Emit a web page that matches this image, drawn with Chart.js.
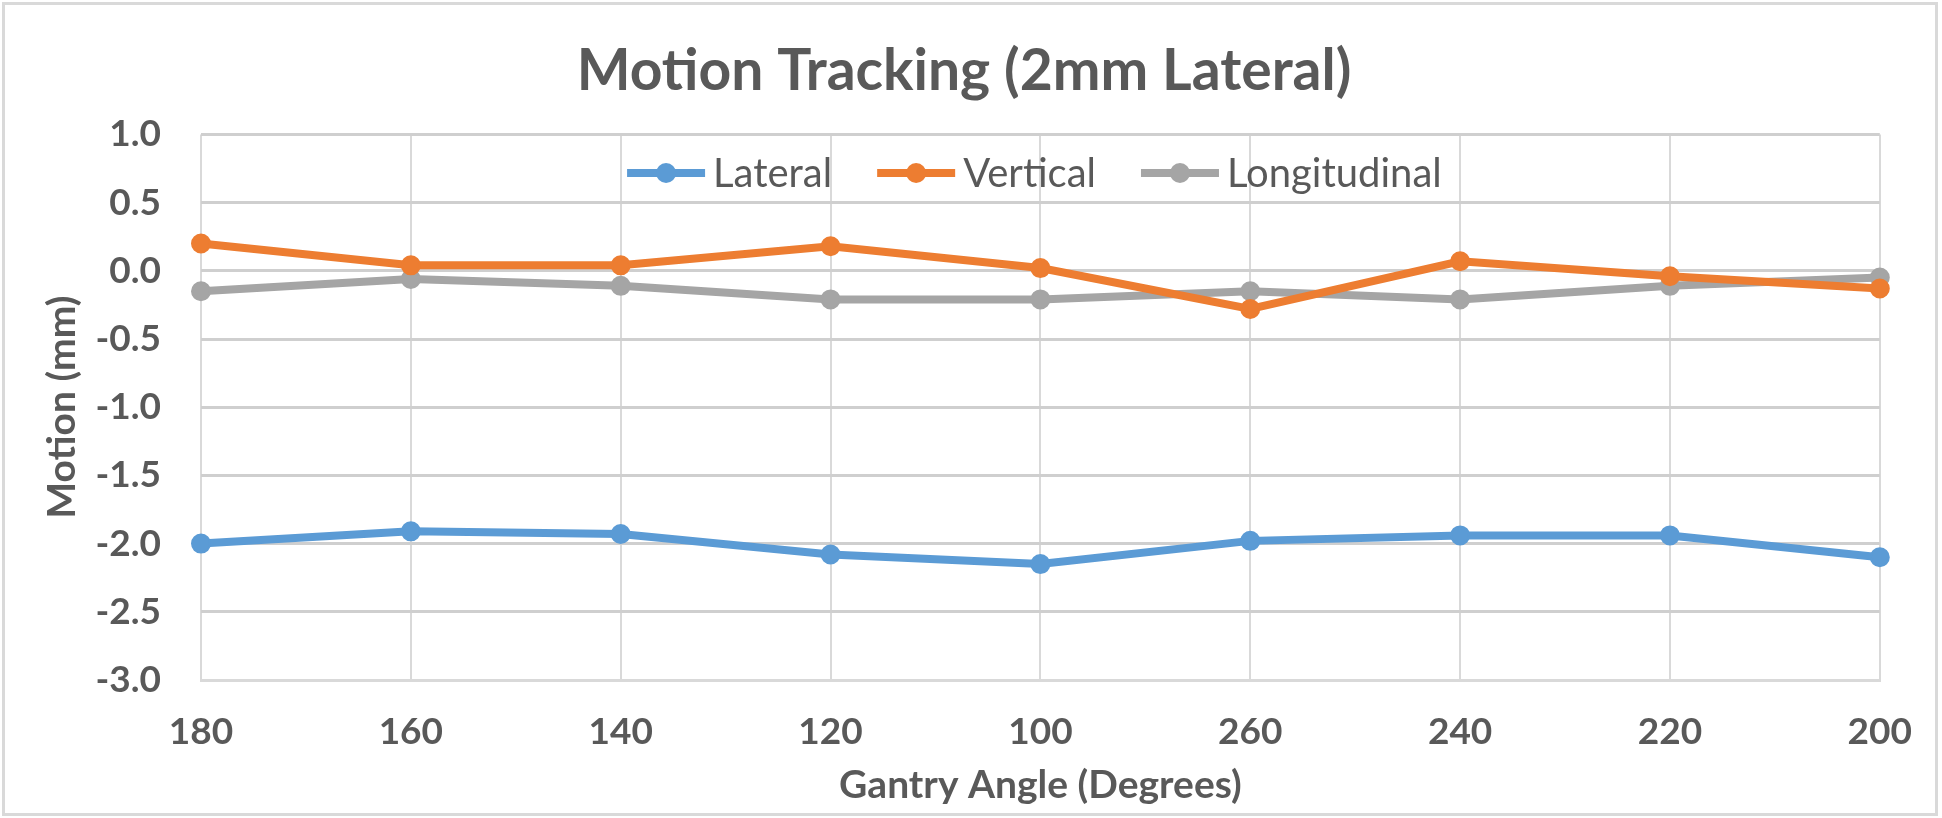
<!DOCTYPE html>
<html>
<head>
<meta charset="utf-8">
<script src="https://cdn.jsdelivr.net/npm/chart.js@4.4.1/dist/chart.umd.min.js"></script>
<style>
  html, body { margin: 0; padding: 0; background: #ffffff; }
  #wrap { width: 1942px; height: 818px; position: relative; }
</style>
</head>
<body>
<div id="wrap"><canvas id="c" width="1942" height="818"></canvas></div>
<script>
const chartTitle = 'Motion Tracking (2mm Lateral)';
const xAxisTitle = 'Gantry Angle (Degrees)';
const yAxisTitle = 'Motion (mm)';
const categories = ['180', '160', '140', '120', '100', '260', '240', '220', '200'];
const seriesNames = ['Lateral', 'Vertical', 'Longitudinal'];
const lateral = [-2.00, -1.91, -1.93, -2.08, -2.15, -1.98, -1.94, -1.94, -2.10];
const vertical = [0.20, 0.04, 0.04, 0.18, 0.02, -0.28, 0.07, -0.04, -0.13];
const longitudinal = [-0.15, -0.06, -0.11, -0.21, -0.21, -0.15, -0.21, -0.11, -0.05];
const yMin = -3.0, yMax = 1.0, yStep = 0.5;

const colors = ['#5B9BD5', '#ED7D31', '#A5A5A5'];
const textColor = '#595959';
const FONT = 'Lato, "Open Sans", sans-serif';

function ds(label, data, color) {
  return {
    label, data,
    borderColor: color, backgroundColor: color,
    pointBackgroundColor: color, pointBorderColor: color,
    borderWidth: 8, pointRadius: 9, pointBorderWidth: 2,
    pointHoverRadius: 9, tension: 0, fill: false
  };
}

const frame = {
  id: 'frame',
  afterLayout(chart) {
    // Excel centres the title slightly right of the padded box
    if (chart.titleBlock) chart.titleBlock.right += 44;
  },
  beforeDraw(chart) {
    const c = chart.ctx;
    c.save();
    c.fillStyle = '#ffffff';
    c.fillRect(0, 0, chart.width, chart.height);
    c.strokeStyle = '#d9d9d9';
    c.lineWidth = 3;
    c.strokeRect(3.5, 3.5, 1933, 811);
    c.restore();
  }
};

const innerLegend = {
  id: 'innerLegend',
  afterDatasetsDraw(chart) {
    const c = chart.ctx;
    const area = chart.chartArea;
    const fontSize = 40;
    c.save();
    c.font = fontSize + 'px ' + FONT;
    const symW = 78, gapText = 8, gapItem = 45;
    const items = chart.data.datasets.map(d => ({
      label: d.label, color: d.borderColor, tw: c.measureText(d.label).width
    }));
    const total = items.reduce((s, it) => s + symW + gapText + it.tw, 0) + gapItem * (items.length - 1);
    let x = (area.left + area.right) / 2 - total / 2 - 6;
    const y = 173;
    items.forEach(it => {
      c.strokeStyle = it.color;
      c.fillStyle = it.color;
      c.lineWidth = 8;
      c.beginPath();
      c.moveTo(x, y);
      c.lineTo(x + symW, y);
      c.stroke();
      c.beginPath();
      c.arc(x + symW / 2, y, 10, 0, Math.PI * 2);
      c.fill();
      c.fillStyle = textColor;
      c.textBaseline = 'middle';
      c.textAlign = 'left';
      c.fillText(it.label, x + symW + gapText, y + 1);
      x += symW + gapText + it.tw + gapItem;
    });
    c.restore();
  }
};

new Chart(document.getElementById('c'), {
  type: 'line',
  data: {
    labels: categories,
    datasets: [
      ds(seriesNames[0], lateral, colors[0]),
      ds(seriesNames[1], vertical, colors[1]),
      ds(seriesNames[2], longitudinal, colors[2])
    ]
  },
  options: {
    responsive: false,
    animation: false,
    devicePixelRatio: 1,
    layout: { padding: { left: 3, right: 61, top: 0, bottom: 8 } },
    plugins: {
      legend: { display: false },
      tooltip: { enabled: false },
      title: {
        display: true,
        text: chartTitle,
        color: textColor,
        font: { family: FONT, size: 57, weight: 'bold', lineHeight: 1.2 },
        padding: { top: 37, bottom: 29 }
      }
    },
    scales: {
      x: {
        offset: false,
        grid: { color: '#d9d9d9', lineWidth: 2, drawTicks: false },
        border: { color: '#d9d9d9', width: 3 },
        ticks: {
          color: textColor, padding: 30, maxRotation: 0, autoSkip: false,
          font: { family: FONT, size: 37, weight: 'bold', lineHeight: 1.2 }
        },
        title: {
          display: true, text: xAxisTitle, color: textColor,
          font: { family: FONT, size: 39, weight: 'bold', lineHeight: 1.2 },
          padding: { top: 0, bottom: 1 }
        },
        afterFit(scale) { scale.height = 130; }
      },
      y: {
        min: yMin, max: yMax,
        grid: { color: '#cfcfcf', lineWidth: 3, drawTicks: false },
        border: { display: false },
        ticks: {
          stepSize: yStep, color: textColor, padding: 40,
          font: { family: FONT, size: 37, weight: 'bold', lineHeight: 1.2 },
          callback: v => Number(v).toFixed(1)
        },
        title: {
          display: true, text: yAxisTitle, color: textColor,
          font: { family: FONT, size: 39, weight: 'bold', lineHeight: 1.2 },
          padding: { top: 36, bottom: 0 }
        },
        afterFit(scale) { scale.width = 198; }
      }
    }
  },
  plugins: [frame, innerLegend]
});
</script>
</body>
</html>
